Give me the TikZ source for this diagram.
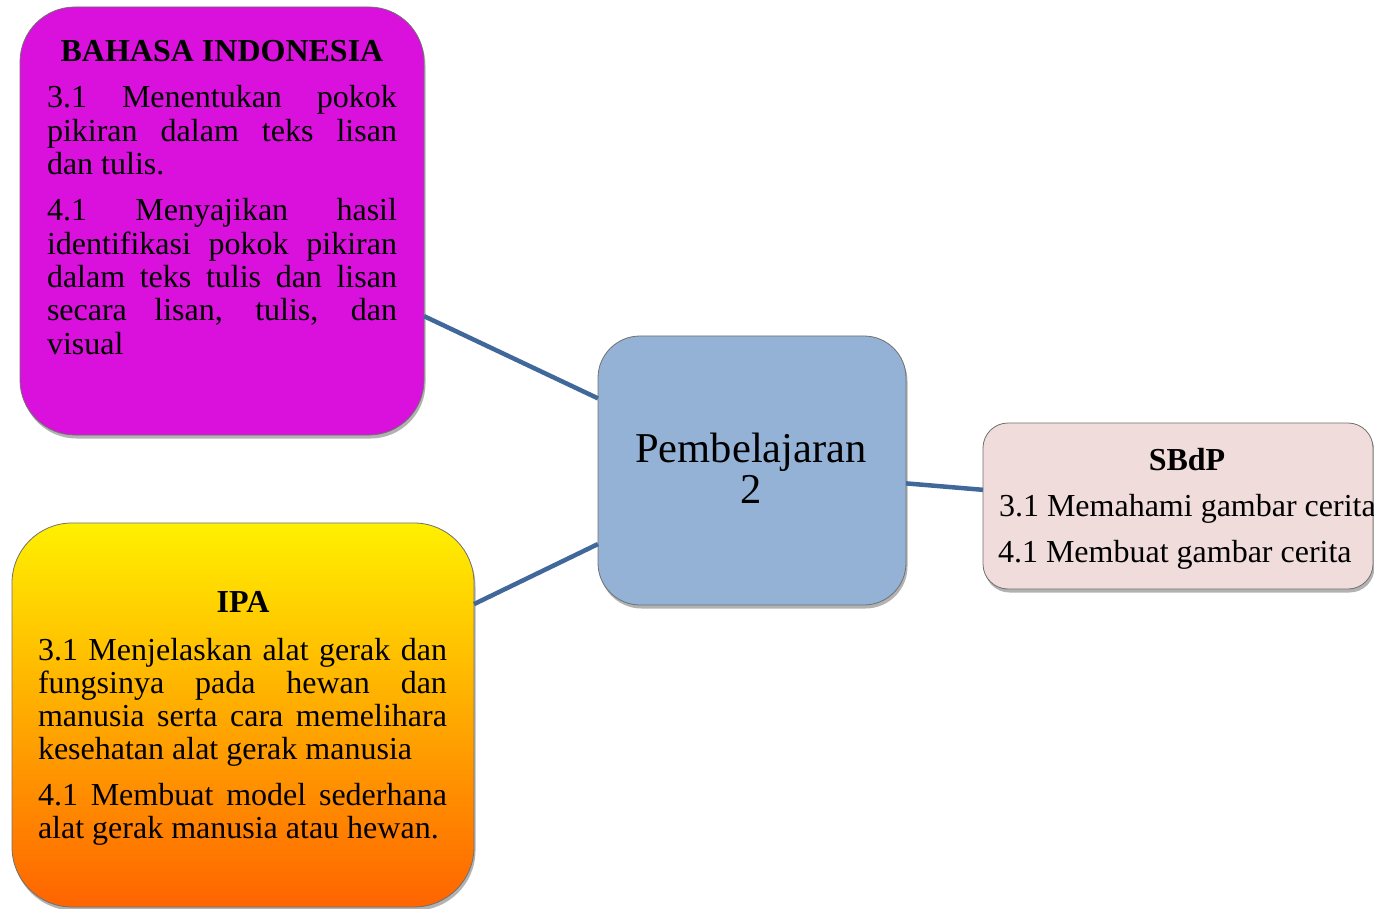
\documentclass[tikz,border=0pt]{standalone}
\usepackage{fontspec}
\setmainfont{Liberation Serif}
\usetikzlibrary{shadows}
\definecolor{bimag}{HTML}{DA10DC}
\definecolor{ctrblue}{HTML}{93B2D6}
\definecolor{sbpink}{HTML}{F0DDDB}
\definecolor{ipatop}{HTML}{FFF000}
\definecolor{ipabot}{HTML}{FF6400}
\definecolor{linkblue}{HTML}{41689A}
\definecolor{edgegray}{HTML}{707070}
\hyphenpenalty=10000
\exhyphenpenalty=10000
\tolerance=10000
\hbadness=10000
\tikzset{
  box/.style={draw=edgegray, line width=0.8pt, inner sep=0pt, outer sep=0pt,
    drop shadow={shadow xshift=1.5pt, shadow yshift=-3.5pt, opacity=0.3, fill=black}},
  link/.style={draw=linkblue, line width=4.5pt},
  txt/.style={inner sep=0pt, outer sep=0pt, font=\fontsize{32}{33.3}\selectfont},
  body/.style={txt, anchor=base west, align=justify},
  ttl/.style={txt, anchor=base, font=\fontsize{32}{33.3}\selectfont\bfseries},
}
\begin{document}
\begin{tikzpicture}[x=1pt,y=-1pt]
\useasboundingbox (0,0) rectangle (1374,909);
% boxes
\node[box, fill=bimag, rounded corners=55pt, minimum width=404pt, minimum height=428pt] (bi) at (222,221) {};
\node[box, top color=ipatop, bottom color=ipabot, rounded corners=60pt, minimum width=462pt, minimum height=384pt] (ipa) at (243,715) {};
\node[box, fill=ctrblue, rounded corners=42pt, minimum width=308pt, minimum height=269pt] (ctr) at (752,470.5) {};
\node[box, fill=sbpink, rounded corners=25pt, minimum width=390pt, minimum height=166pt] (sb) at (1178,506) {};
% connectors
\draw[link] (bi) -- (ctr);
\draw[link] (ipa) -- (ctr);
\draw[link] (ctr) -- (sb);
% texts
\node[ttl] (bititle) at (222,62) {BAHASA INDONESIA};
\node[body, text width=350pt] (bibody) at (47,108) {\setlength{\parskip}{13pt}%
3.1 Menentukan pokok\linebreak pikiran dalam teks lisan\linebreak dan tulis.\par
4.1 Menyajikan hasil\linebreak identifikasi pokok pikiran\linebreak dalam teks tulis dan lisan\linebreak secara lisan, tulis, dan\linebreak visual};
\node[ttl] (ipatitle) at (243,612) {IPA};
\node[body, text width=409pt] (ipabody) at (38,660) {\setlength{\parskip}{12pt}%
3.1 Menjelaskan alat gerak dan\linebreak fungsinya pada hewan dan\linebreak manusia serta cara memelihara\linebreak kesehatan alat gerak manusia\par
4.1 Membuat model sederhana\linebreak alat gerak manusia atau hewan.};
\node[txt, anchor=base, text width=300pt, align=center, font=\fontsize{42.5}{41}\selectfont] (ctrtext) at (751,462) {Pembelajaran\\2};
\node[ttl] (sbtitle) at (1187,470) {SBdP};
\node[txt, anchor=base west] (sb1) at (999,516) {3.1 Memahami gambar cerita};
\node[txt, anchor=base west] (sb2) at (998,562) {4.1 Membuat gambar cerita};
\end{tikzpicture}
\end{document}
